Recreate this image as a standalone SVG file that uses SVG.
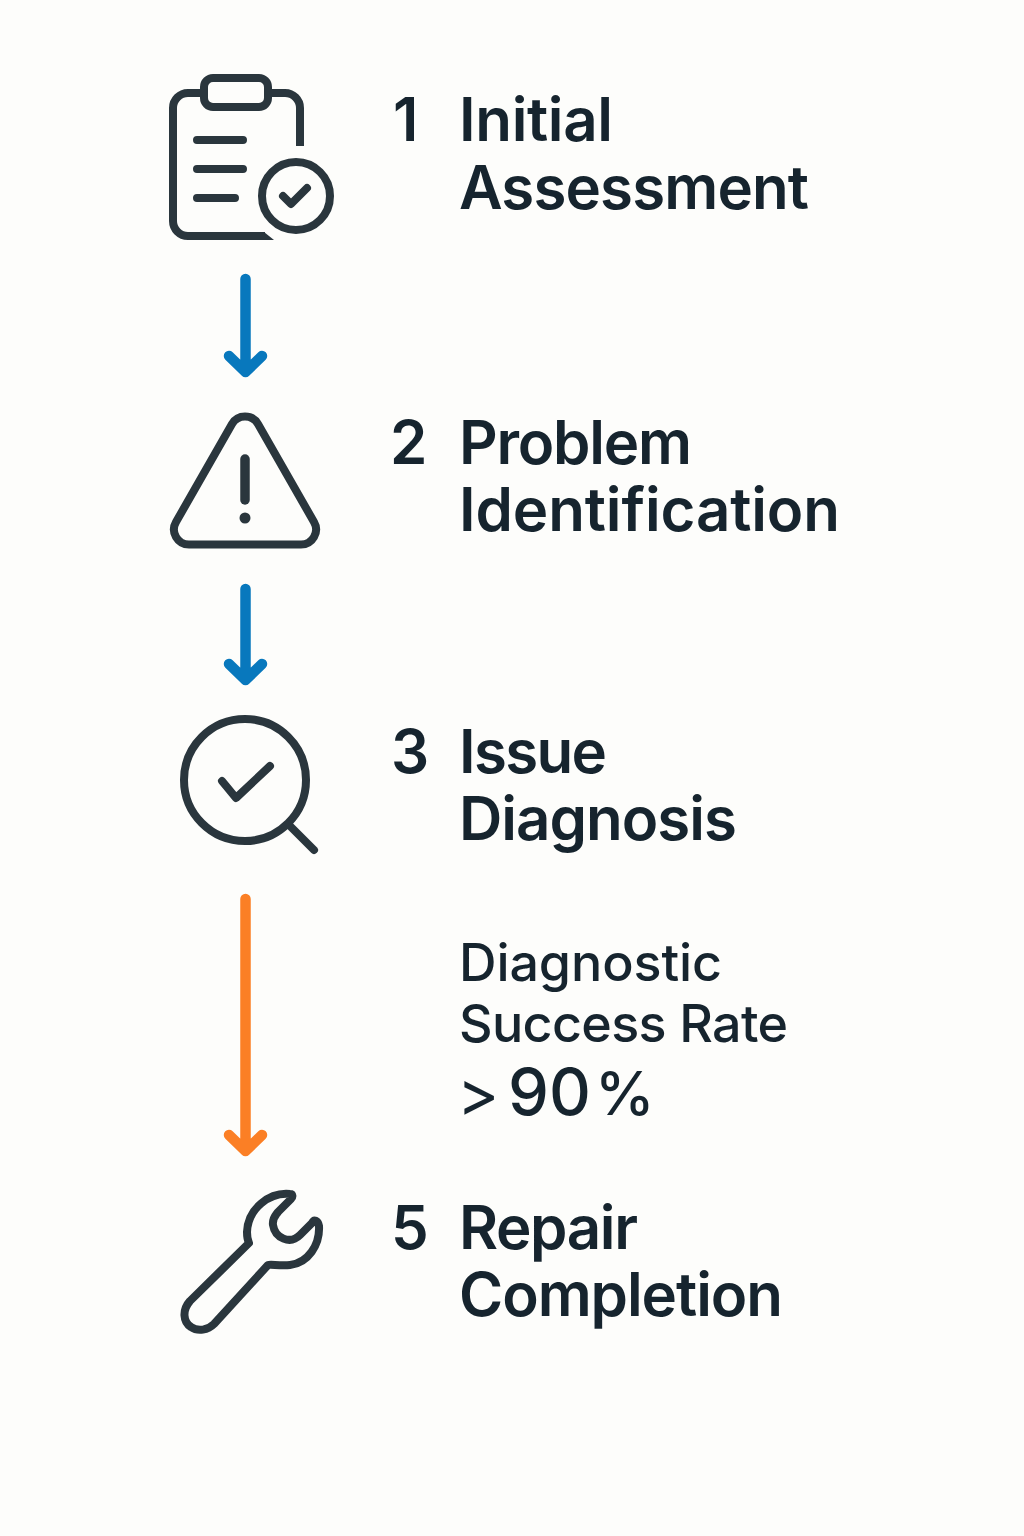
<svg xmlns="http://www.w3.org/2000/svg" width="1024" height="1536" viewBox="0 0 1024 1536">
<style>
.i{fill:none;stroke:#2a363d;stroke-width:8;stroke-linecap:round;stroke-linejoin:round}
.t{font-family:Inter,"Liberation Sans",sans-serif;fill:#16242e}
.h{font-size:60px;font-weight:560}
.s{font-size:52px;font-weight:450}
.a{fill:none;stroke-width:10.500;stroke-linecap:round;stroke-linejoin:round}
</style>
<rect width="1024" height="1536" fill="#fdfdfb"/>
<g id="connectors">
<path class="a" stroke="#0878bd" d="M245.500 279V372M229 356L245.500 372L262 356"/>
<path class="a" stroke="#0878bd" d="M245.500 589V680M229 664L245.500 680L262 664"/>
<path class="a" stroke="#fb7f25" d="M245.500 899V1151M229 1135L245.500 1151L262 1135"/>
</g>
<g id="node1">
<path class="i" style="stroke-linecap:butt" d="M204 93H188A15 15 0 0 0 173 108V221A15 15 0 0 0 188 236H265M268 93H285A15 15 0 0 1 300 108V146"/>
<path d="M262 232H264L274 240H262Z" fill="#2a363d"/>
<rect class="i" x="204" y="78" width="64" height="29" rx="9"/>
<path class="i" d="M197 140H243M197 169H243M197 198H235"/>
<circle class="i" cx="296" cy="196" r="34"/>
<path class="i" d="M283 196L291 204L307 188"/>
<text class="t h" x="393" y="141">1</text>
<text class="t h" x="459" y="141" textLength="154">Initial</text>
<text class="t h" x="459" y="209" textLength="350">Assessment</text>
</g>
<g id="node2">
<path class="i" d="M232 424A15 15 0 0 1 258 424L314 522A15 15 0 0 1 301 544.500H189A15 15 0 0 1 176 522Z"/>
<path class="i" style="stroke-width:9.500" d="M245 459V500"/>
<circle cx="245" cy="518" r="5.500" fill="#2a363d"/>
<text class="t h" x="390" y="464">2</text>
<text class="t h" x="459" y="464" textLength="233">Problem</text>
<text class="t h" x="459" y="531" textLength="381">Identification</text>
</g>
<g id="node3">
<circle class="i" cx="245" cy="780" r="61"/>
<path class="i" d="M222 781L236 798L270 766"/>
<path class="i" d="M289 825L314 850"/>
<text class="t h" x="391" y="773">3</text>
<text class="t h" x="459" y="773" textLength="148">Issue</text>
<text class="t h" x="459" y="840" textLength="278">Diagnosis</text>
</g>
<g id="metric">
<text class="t s" x="459" y="981" textLength="263">Diagnostic</text>
<text class="t s" x="459" y="1042" textLength="329">Success Rate</text>
<text class="t" x="457" y="1116" font-size="64" font-weight="400">&gt;</text>
<text class="t" x="508" y="1115" font-size="65" font-weight="540">90</text>
<text class="t" x="595" y="1115" font-size="60" font-weight="500">%</text>
</g>
<g id="node5">
<path class="i" d="M290 1194C270 1192 248 1208 247 1232C247 1238 248 1241 249 1243L190 1301C182 1310 183 1322 191 1327C198 1332 208 1330 214 1324L268 1265C270 1264 280 1266 290 1265C308 1263 320 1245 319 1226C318 1220 314 1219 312 1223L300 1235C290 1245 275 1238 273 1225C272 1218 276 1215 278 1212L291 1199C293 1197 293 1194 290 1194Z"/>
<text class="t h" x="391" y="1249">5</text>
<text class="t h" x="459" y="1249" textLength="179">Repair</text>
<text class="t h" x="459" y="1316" textLength="324">Completion</text>
</g>
</svg>
